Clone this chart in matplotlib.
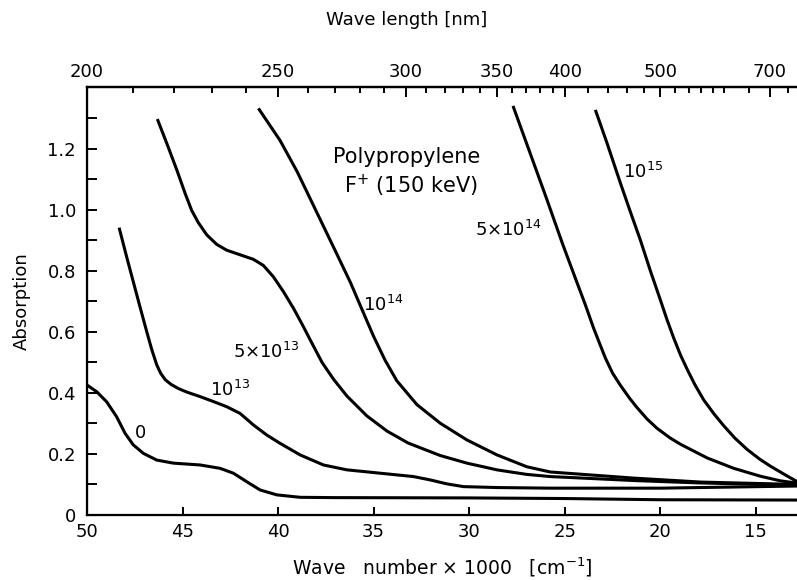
import matplotlib
matplotlib.use("Agg")
import matplotlib.pyplot as plt
from matplotlib.ticker import FixedLocator, NullFormatter

# wave number (x1000 cm^-1) and absorption
x_0 = [50.0, 49.49, 48.97, 48.45, 48.01, 47.58, 47.05, 46.35, 45.48, 44.08, 43.04, 42.34, 41.64, 40.94,
       40.07, 38.85, 37.1, 30.0, 25.0, 20.0, 12.8]
y_0 = [0.426, 0.404, 0.371, 0.322, 0.268, 0.230, 0.202, 0.180, 0.170, 0.164, 0.153, 0.137, 0.109, 0.082,
       0.066, 0.058, 0.057, 0.056, 0.054, 0.050, 0.049]

x_1e13 = [48.32, 47.92, 47.58, 47.23, 46.87, 46.61, 46.35, 46.15, 45.9, 45.6, 45.2, 44.78, 44.08, 43.39, 42.69,
          41.99, 41.29, 40.59, 39.90, 38.85, 37.63, 36.40, 34.66, 32.92, 32.04, 31.17, 30.30, 28.55, 25.76, 20.0, 12.8]
y_1e13 = [0.942, 0.845, 0.765, 0.683, 0.600, 0.542, 0.492, 0.465, 0.443, 0.428, 0.414, 0.403, 0.388, 0.372, 0.355,
          0.333, 0.295, 0.262, 0.235, 0.197, 0.164, 0.148, 0.137, 0.126, 0.115, 0.102, 0.093, 0.090, 0.088, 0.088, 0.095]

x_5e13 = [46.32, 45.83, 45.30, 44.87, 44.52, 44.17, 43.73, 43.21, 42.69, 41.99, 41.29, 40.77, 40.25, 39.72,
          39.20, 38.75, 38.32, 37.7, 37.1, 36.4, 35.36, 34.3, 33.2, 31.52, 30.12, 28.55, 26.98, 25.76, 21.4, 17.9, 12.8]
y_5e13 = [1.298, 1.219, 1.131, 1.055, 0.998, 0.958, 0.918, 0.887, 0.868, 0.853, 0.838, 0.818, 0.781, 0.732,
          0.678, 0.626, 0.574, 0.500, 0.445, 0.390, 0.325, 0.275, 0.236, 0.195, 0.170, 0.148, 0.133, 0.126, 0.113,
          0.105, 0.098]

x_1e14 = [41.03, 39.9, 39.0, 38.0, 37.0, 36.2, 35.6, 35.0, 34.4, 33.79, 32.74, 31.52, 30.12, 28.55,
          26.98, 25.76, 21.4, 17.9, 12.8]
y_1e14 = [1.333, 1.228, 1.125, 0.995, 0.865, 0.760, 0.672, 0.585, 0.507, 0.440, 0.362, 0.301, 0.246, 0.197,
          0.158, 0.141, 0.121, 0.108, 0.100]

x_5e14 = [27.71, 26.75, 25.93, 25.13, 24.41, 23.93, 23.49, 22.88, 22.5, 22.09, 21.6, 21.22, 20.7, 20.17, 19.5,
          18.95, 17.55, 16.16, 14.76, 13.72, 12.8]
y_5e14 = [1.341, 1.175, 1.033, 0.891, 0.770, 0.690, 0.612, 0.515, 0.465, 0.425, 0.382, 0.352, 0.315, 0.284, 0.253,
          0.232, 0.187, 0.153, 0.127, 0.112, 0.104]

x_1e15 = [23.40, 22.79, 22.09, 21.57, 21.05, 20.52, 20.0, 19.65, 19.30, 18.95, 18.60, 18.2, 17.73, 17.2, 16.69,
          16.1, 15.46, 14.8, 14.24, 13.37, 12.8]
y_1e15 = [1.328, 1.219, 1.088, 0.994, 0.902, 0.800, 0.705, 0.640, 0.580, 0.525, 0.478, 0.428, 0.377, 0.332, 0.293,
          0.252, 0.215, 0.183, 0.160, 0.128, 0.108]

curves = [(x_0, y_0), (x_1e13, y_1e13), (x_5e13, y_5e13),
          (x_1e14, y_1e14), (x_5e14, y_5e14), (x_1e15, y_1e15)]

# curve labels and their positions (wave number, absorption)
labels = ["0", r"10$^{13}$", r"5$\times$10$^{13}$", r"10$^{14}$", r"5$\times$10$^{14}$", r"10$^{15}$"]
label_x = [47.2, 42.5, 40.6, 34.5, 27.95, 20.9]
label_y = [0.27, 0.41, 0.535, 0.69, 0.934, 1.125]

bottom_ticks = [50, 45, 40, 35, 30, 25, 20, 15]
y_major = [0, 0.2, 0.4, 0.6, 0.8, 1.0, 1.2]
y_labels = ["0", "0.2", "0.4", "0.6", "0.8", "1.0", "1.2"]
y_minor = [0.1, 0.3, 0.5, 0.7, 0.9, 1.1, 1.3]

# wave length ticks on top (nm)
wl_major = [200, 250, 300, 350, 400, 500, 700]
wl_minor = list(range(210, 400, 10)) + list(range(420, 600, 20)) + [600, 650, 750]

plt.rcParams['font.family'] = ['DejaVu Sans']
plt.rcParams['mathtext.fontset'] = 'dejavusans'

fig = plt.figure(figsize=(7.97, 5.80), dpi=100)
ax = fig.add_axes([87 / 797, 65 / 580, 710 / 797, 428 / 580])

for xs, ys in curves:
    ax.plot(xs, ys, color='black', linewidth=2.2, solid_joinstyle='round', solid_capstyle='butt')

for t, lx, ly in zip(labels, label_x, label_y):
    ax.text(lx, ly, t, fontsize=13, ha='center', va='center')

ax.text(33.3, 1.175, "Polypropylene", fontsize=15, ha='center', va='center')
ax.text(33.05, 1.08, r"F$^{+}$ (150 keV)", fontsize=15, ha='center', va='center')

ax.set_xlim(50, 12.85)
ax.set_ylim(0, 1.403)

ax.set_xticks(bottom_ticks)
ax.set_yticks(y_major)
ax.set_yticklabels(y_labels)
ax.yaxis.set_minor_locator(FixedLocator(y_minor))
ax.tick_params(axis='both', which='both', direction='in', labelsize=13, width=1.4)
ax.tick_params(axis='x', which='major', length=6, pad=6)
ax.tick_params(axis='y', which='major', length=7, pad=8)
ax.tick_params(axis='y', which='minor', length=7)

ax.set_xlabel(r"Wave   number $\times$ 1000   [cm$^{-1}$]", fontsize=13.5, labelpad=0)
ax.xaxis.set_label_coords(0.5, -0.095)
ax.set_ylabel("Absorption", fontsize=13, labelpad=12)

for s in ['left', 'bottom', 'top']:
    ax.spines[s].set_linewidth(1.6)
ax.spines['right'].set_visible(False)

# top axis in wave length
ax2 = ax.twiny()
ax2.set_xlim(ax.get_xlim())
ax2.xaxis.set_major_locator(FixedLocator([1e4 / w for w in wl_major]))
ax2.set_xticklabels([str(w) for w in wl_major])
ax2.xaxis.set_minor_locator(FixedLocator([1e4 / w for w in wl_minor]))
ax2.xaxis.set_minor_formatter(NullFormatter())
ax2.tick_params(axis='x', which='both', direction='in', labelsize=13, width=1.4, pad=4)
ax2.tick_params(axis='x', which='major', length=7)
ax2.tick_params(axis='x', which='minor', length=4)
ax2.set_xlabel("Wave length [nm]", fontsize=13)
ax2.xaxis.set_label_coords(320 / 710, 1.145)
ax2.spines['right'].set_visible(False)
ax2.spines['top'].set_linewidth(1.6)

fig.savefig("out.png", dpi=100)
